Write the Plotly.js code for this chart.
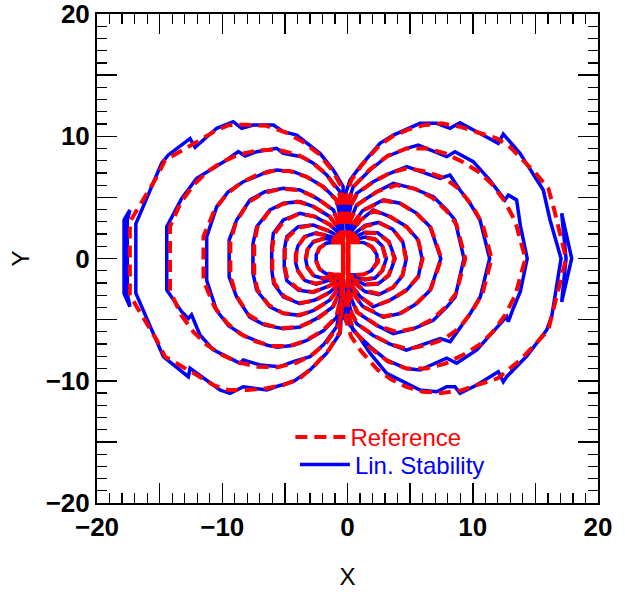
<!DOCTYPE html>
<html>
<head>
<meta charset="utf-8">
<script src="https://cdn.plot.ly/plotly-3.0.1.min.js"></script>
<style>
html, body { margin: 0; padding: 0; background: #ffffff; }
#chart { width: 625px; height: 592px; }
</style>
</head>
<body>
<div id="chart"></div>
<script>
// Field-line loops, one [x, y] list per loop.
// "ref" = Reference solution, "lin" = Lin. Stability solution.
// L = loops on the left of the source, R = loops on the right.

const linL1 = [[-0.35,1.3],[-0.38,3.2],[-0.35,5.9],[-1.13,7.24],[-2.2,8.6],[-3.26,9.42],[-4.06,10.1],[-5.12,10.37],[-5.92,10.92],[-7.52,10.92],[-8.45,10.65],[-9.12,11.19],[-10.44,10.65],[-12.17,9.1],[-12.57,9.8],[-14.3,8.47],[-14.84,7.79],[-16.9,2.84],[-16.9,-2.84],[-14.7,-8.03],[-12.71,-9.67],[-12.57,-8.98],[-10.18,-10.76],[-9.38,-11.03],[-8.32,-10.49],[-6.45,-10.76],[-5.6,-10.45],[-4.33,-10.08],[-2.99,-9.12],[-1.66,-7.75],[-0.6,-6.12],[-0.38,-3.2],[-0.35,-1.3]];
const linL2 = [[-0.35,1.3],[-0.45,3.4],[-0.6,5.46],[-1.66,6.83],[-2.73,7.79],[-3.66,8.33],[-5.12,8.6],[-5.65,9.01],[-7.25,8.74],[-8.18,8.38],[-8.72,8.74],[-9.65,8.06],[-10.98,7.24],[-12.04,6.56],[-13.24,4.92],[-14.43,2.6],[-14.43,-2.58],[-13.24,-4.35],[-12.7,-4.9],[-12.45,-4.6],[-11.78,-6.26],[-10.71,-7.48],[-8.58,-8.57],[-8.32,-8.3],[-6.99,-8.71],[-5.39,-8.85],[-4.33,-8.44],[-2.99,-8.03],[-1.93,-7.07],[-0.86,-5.58],[-0.45,-3.4],[-0.35,-1.3]];
const linL3 = [[-0.35,1.3],[-0.5,3.0],[-0.86,4.79],[-1.93,5.87],[-3.26,6.69],[-4.33,7.1],[-5.65,7.24],[-6.45,7.1],[-6.99,6.83],[-8.32,6.28],[-9.52,5.46],[-10.44,4.24],[-11.24,1.79],[-11.24,-1.8],[-10.45,-4.25],[-9.5,-5.5],[-8.3,-6.3],[-7.0,-6.85],[-6.4,-7.1],[-5.6,-7.25],[-4.3,-7.1],[-3.25,-6.7],[-1.9,-5.9],[-0.86,-4.8],[-0.5,-3.0],[-0.35,-1.3]];
const linL4 = [[-0.35,1.3],[-0.55,2.6],[-1.13,3.97],[-2.46,4.92],[-3.79,5.6],[-5.12,5.74],[-6.59,5.46],[-7.78,4.79],[-8.85,3.15],[-9.45,1.5],[-9.45,-1.5],[-8.85,-3.15],[-7.8,-4.8],[-6.6,-5.45],[-5.1,-5.75],[-3.8,-5.6],[-2.45,-4.9],[-1.15,-3.95],[-0.55,-2.6],[-0.35,-1.3]];
const linL5 = [[-0.35,1.3],[-0.6,2.3],[-1.4,3.42],[-2.73,4.24],[-3.79,4.65],[-5.12,4.52],[-6.19,3.97],[-7.25,2.6],[-7.55,1.2],[-7.55,-1.2],[-7.25,-2.6],[-6.2,-3.95],[-5.1,-4.5],[-3.8,-4.65],[-2.7,-4.25],[-1.4,-3.4],[-0.6,-2.3],[-0.35,-1.3]];
const linL6 = [[-0.35,1.3],[-0.6,2.0],[-1.4,2.74],[-2.59,3.42],[-3.79,3.7],[-5.12,3.15],[-5.92,2.06],[-6.05,0.9],[-6.05,-0.9],[-5.9,-2.05],[-5.1,-3.15],[-3.8,-3.7],[-2.6,-3.4],[-1.4,-2.75],[-0.6,-2.0],[-0.35,-1.3]];
const linL7 = [[-0.35,1.3],[-0.6,1.75],[-1.4,2.2],[-2.73,2.74],[-3.93,2.6],[-4.85,1.78],[-5.05,0.7],[-5.05,-0.7],[-4.85,-1.8],[-3.9,-2.6],[-2.7,-2.75],[-1.4,-2.2],[-0.6,-1.75],[-0.35,-1.3]];
const linL8 = [[-0.35,1.3],[-0.7,1.55],[-1.4,1.8],[-2.5,2.1],[-3.4,1.8],[-3.95,1.05],[-4.15,0.3],[-4.15,-0.3],[-3.95,-1.05],[-3.4,-1.8],[-2.5,-2.1],[-1.4,-1.8],[-0.7,-1.55],[-0.35,-1.3]];
const linL9 = [[-0.35,1.3],[-1.0,1.5],[-1.9,1.65],[-2.7,1.4],[-3.2,0.75],[-3.35,0.0],[-3.2,-0.75],[-2.7,-1.4],[-1.9,-1.65],[-1.0,-1.5],[-0.35,-1.3]];
const linL10 = [[-0.35,1.3],[-1.0,1.35],[-1.7,1.25],[-2.2,0.9],[-2.5,0.3],[-2.5,-0.3],[-2.2,-0.9],[-1.7,-1.25],[-1.0,-1.35],[-0.35,-1.3]];
const linSpikeL = [[-17.37,3.97],[-17.84,3.15],[-17.84,-2.85],[-17.37,-3.94],[-17.58,-2.85],[-17.58,3.15],[-17.37,3.97]];

const linR1 = [[0.05,1.3],[-0.12,3.2],[-0.25,5.0],[0.2,6.42],[1.0,7.51],[2.59,9.42],[3.66,10.1],[5.79,11.06],[7.12,11.06],[8.18,10.65],[8.98,11.11],[10.32,10.37],[12.04,9.42],[12.44,10.18],[13.77,8.6],[15.63,5.6],[16.17,3.15],[17.05,0.0],[16.3,-4.76],[15.9,-5.85],[14.3,-8.0],[12.71,-9.67],[12.44,-10.08],[12.04,-9.26],[10.32,-10.35],[8.98,-11.03],[8.58,-10.49],[7.92,-10.49],[7.12,-10.9],[5.79,-10.76],[4.73,-10.21],[3.13,-9.39],[1.8,-7.75],[0.73,-6.12],[-0.25,-4.9],[-0.12,-3.2],[0.05,-1.3]];
const linR2 = [[0.05,1.3],[-0.05,3.2],[0.1,4.8],[0.46,5.87],[1.8,7.24],[3.13,8.33],[4.73,9.01],[5.65,9.28],[7.92,8.33],[8.58,8.74],[10.04,7.92],[11.24,6.56],[12.57,4.79],[12.84,5.19],[13.5,4.79],[13.8,2.7],[14.35,0.0],[13.8,-2.7],[13.24,-4.07],[12.84,-5.17],[12.71,-4.76],[11.3,-6.4],[10.32,-7.48],[8.72,-8.57],[7.92,-8.16],[5.79,-9.12],[4.7,-9.0],[3.1,-8.3],[1.8,-7.2],[0.46,-5.9],[0.1,-4.8],[-0.05,-3.2],[0.05,-1.3]];
const linR3 = [[0.05,1.3],[0.0,3.0],[0.3,4.5],[0.73,5.33],[2.06,6.28],[3.39,6.97],[4.73,7.51],[5.53,7.24],[7.39,6.56],[8.18,6.83],[8.98,5.6],[9.78,4.52],[10.58,3.15],[11.35,0.0],[10.6,-3.15],[9.8,-4.5],[9.0,-5.6],[8.2,-6.8],[7.4,-6.55],[5.5,-7.25],[4.7,-7.5],[3.4,-7.0],[2.05,-6.3],[0.75,-5.35],[0.3,-4.5],[0.0,-3.0],[0.05,-1.3]];
const linR4 = [[0.05,1.3],[0.1,2.8],[0.73,4.38],[2.33,5.46],[3.66,6.15],[5.25,5.74],[6.85,5.05],[7.92,3.97],[8.58,3.15],[9.3,0.0],[8.6,-3.15],[7.9,-4.0],[6.85,-5.05],[5.25,-5.75],[3.65,-6.15],[2.3,-5.45],[0.75,-4.4],[0.1,-2.8],[0.05,-1.3]];
const linR5 = [[0.05,1.3],[0.2,2.5],[1.2,3.9],[2.86,4.79],[4.19,4.52],[5.53,3.7],[6.59,2.6],[7.45,0.0],[6.6,-2.6],[5.5,-3.7],[4.2,-4.5],[2.85,-4.8],[1.2,-3.9],[0.2,-2.5],[0.05,-1.3]];
const linR6 = [[0.05,1.3],[0.3,2.2],[1.0,3.1],[2.06,3.97],[3.39,3.42],[4.73,2.6],[5.65,1.51],[5.95,0.0],[5.65,-1.5],[4.7,-2.6],[3.4,-3.4],[2.05,-3.95],[1.0,-3.1],[0.3,-2.2],[0.05,-1.3]];
const linR7 = [[0.05,1.3],[0.4,1.9],[1.4,2.7],[2.5,2.95],[3.6,2.4],[4.4,1.4],[4.7,0.0],[4.4,-1.4],[3.6,-2.4],[2.5,-2.95],[1.4,-2.7],[0.4,-1.9],[0.05,-1.3]];
const linR8 = [[0.05,1.3],[0.5,1.7],[1.4,2.15],[2.4,2.1],[3.3,1.4],[3.8,0.0],[3.3,-1.4],[2.4,-2.1],[1.4,-2.15],[0.5,-1.7],[0.05,-1.3]];
const linR9 = [[0.05,1.3],[0.6,1.55],[1.4,1.75],[2.2,1.6],[2.8,1.0],[3.1,0.0],[2.8,-1.0],[2.2,-1.6],[1.4,-1.75],[0.6,-1.55],[0.05,-1.3]];
const linR10 = [[0.05,1.3],[0.6,1.35],[1.3,1.3],[1.9,1.0],[2.35,0.3],[2.35,-0.3],[1.9,-1.0],[1.3,-1.3],[0.6,-1.35],[0.05,-1.3]];
const linSpikeR = [[17.1,3.7],[17.9,0.0],[17.1,-3.55],[17.45,0.0],[17.1,3.7]];

const refL1 = [[-0.35,1.3],[-0.4,3.2],[-0.45,5.8],[-1.2,7.2],[-2.3,8.55],[-3.5,9.5],[-4.9,10.3],[-6.5,10.85],[-8.1,10.95],[-9.5,10.9],[-10.71,10.35],[-12.04,9.53],[-13.37,8.71],[-14.57,8.03],[-15.23,6.67],[-16.03,5.3],[-17.38,3.0],[-17.38,-3.0],[-16.03,-5.3],[-15.23,-6.67],[-14.57,-8.03],[-13.37,-8.71],[-12.04,-9.53],[-10.71,-10.35],[-9.52,-10.76],[-8.05,-10.76],[-6.45,-10.62],[-5.12,-10.35],[-3.79,-9.8],[-2.59,-8.71],[-1.5,-7.5],[-0.6,-6.0],[-0.4,-3.2],[-0.35,-1.3],[-0.35,1.3]];
const refL2 = [[-0.35,1.3],[-0.45,3.4],[-0.65,5.4],[-1.7,6.9],[-2.8,7.85],[-4.0,8.5],[-5.6,8.9],[-7.2,8.85],[-8.7,8.5],[-10.0,7.9],[-11.2,7.1],[-12.3,6.0],[-13.3,4.6],[-14.17,2.6],[-14.17,-2.6],[-13.3,-4.6],[-12.3,-6.0],[-11.2,-7.1],[-10.0,-7.9],[-8.7,-8.5],[-7.2,-8.85],[-5.6,-8.9],[-4.0,-8.5],[-2.8,-7.85],[-1.7,-6.9],[-0.65,-5.4],[-0.45,-3.4],[-0.35,-1.3],[-0.35,1.3]];
const refL3 = [[-0.35,1.3],[-0.5,3.0],[-0.9,4.8],[-2.0,5.9],[-3.3,6.7],[-4.6,7.15],[-6.0,7.15],[-7.3,6.8],[-8.5,6.2],[-9.6,5.3],[-10.6,4.0],[-11.5,1.8],[-11.5,-1.8],[-10.6,-4.0],[-9.6,-5.3],[-8.5,-6.2],[-7.3,-6.8],[-6.0,-7.15],[-4.6,-7.15],[-3.3,-6.7],[-2.0,-5.9],[-0.9,-4.8],[-0.5,-3.0],[-0.35,-1.3],[-0.35,1.3]];
const refL4 = [[-0.35,1.3],[-0.55,2.6],[-1.2,4.0],[-2.5,5.0],[-3.9,5.6],[-5.3,5.7],[-6.7,5.35],[-7.9,4.6],[-8.9,3.0],[-9.35,1.4],[-9.35,-1.4],[-8.9,-3.0],[-7.9,-4.6],[-6.7,-5.35],[-5.3,-5.7],[-3.9,-5.6],[-2.5,-5.0],[-1.2,-4.0],[-0.55,-2.6],[-0.35,-1.3],[-0.35,1.3]];
const refL5 = [[-0.35,1.3],[-0.6,2.3],[-1.45,3.45],[-2.8,4.3],[-4.0,4.65],[-5.2,4.45],[-6.3,3.8],[-7.2,2.55],[-7.45,1.2],[-7.45,-1.2],[-7.2,-2.55],[-6.3,-3.8],[-5.2,-4.45],[-4.0,-4.65],[-2.8,-4.3],[-1.45,-3.45],[-0.6,-2.3],[-0.35,-1.3],[-0.35,1.3]];
const refL6 = [[-0.35,1.3],[-0.6,2.0],[-1.45,2.8],[-2.65,3.45],[-3.9,3.65],[-5.05,3.1],[-5.85,2.0],[-6.0,0.9],[-6.0,-0.9],[-5.85,-2.0],[-5.05,-3.1],[-3.9,-3.65],[-2.65,-3.45],[-1.45,-2.8],[-0.6,-2.0],[-0.35,-1.3],[-0.35,1.3]];
const refL7 = [[-0.35,1.3],[-0.6,1.75],[-1.45,2.25],[-2.8,2.75],[-3.95,2.5],[-4.8,1.7],[-5.0,0.7],[-5.0,-0.7],[-4.8,-1.7],[-3.95,-2.5],[-2.8,-2.75],[-1.45,-2.25],[-0.6,-1.75],[-0.35,-1.3],[-0.35,1.3]];
const refL8 = [[-0.35,1.3],[-0.7,1.55],[-1.45,1.85],[-2.55,2.05],[-3.45,1.75],[-3.95,1.0],[-4.1,0.3],[-4.1,-0.3],[-3.95,-1.0],[-3.45,-1.75],[-2.55,-2.05],[-1.45,-1.85],[-0.7,-1.55],[-0.35,-1.3],[-0.35,1.3]];
const refL9 = [[-0.35,1.3],[-1.0,1.5],[-1.95,1.6],[-2.75,1.35],[-3.2,0.7],[-3.3,0.0],[-3.2,-0.7],[-2.75,-1.35],[-1.95,-1.6],[-1.0,-1.5],[-0.35,-1.3],[-0.35,1.3]];
const refL10 = [[-0.35,1.3],[-1.0,1.33],[-1.75,1.2],[-2.25,0.85],[-2.45,0.3],[-2.45,-0.3],[-2.25,-0.85],[-1.75,-1.2],[-1.0,-1.33],[-0.35,-1.3],[-0.35,1.3]];

const refR1 = [[0.05,1.3],[-0.1,3.0],[-0.15,5.0],[0.3,6.4],[1.1,7.6],[2.5,9.2],[3.6,10.0],[4.73,10.5],[6.05,10.9],[7.52,11.06],[8.98,10.78],[10.32,10.37],[11.9,9.83],[13.0,9.1],[13.77,8.33],[15.0,7.0],[16.03,5.74],[16.5,4.0],[17.45,0.0],[16.5,-4.0],[16.03,-5.85],[15.0,-7.0],[13.8,-8.3],[12.0,-9.8],[10.3,-10.4],[9.0,-10.8],[7.5,-11.0],[6.0,-10.9],[4.7,-10.5],[3.5,-9.9],[2.4,-9.1],[1.1,-7.6],[0.3,-6.4],[-0.15,-5.0],[-0.1,-3.0],[0.05,-1.3],[0.05,1.3]];
const refR2 = [[0.05,1.3],[-0.05,3.2],[0.15,4.8],[0.5,5.9],[1.8,7.3],[3.2,8.4],[4.7,9.0],[6.3,9.0],[7.8,8.6],[9.2,7.9],[10.6,7.0],[11.6,6.0],[12.6,4.6],[13.4,3.0],[14.2,0.0],[13.4,-3.0],[12.6,-4.6],[11.6,-6.0],[10.6,-7.0],[9.2,-7.9],[7.8,-8.6],[6.3,-9.0],[4.7,-9.0],[3.2,-8.4],[1.8,-7.3],[0.5,-5.9],[0.15,-4.8],[-0.05,-3.2],[0.05,-1.3],[0.05,1.3]];
const refR3 = [[0.05,1.3],[0.0,3.0],[0.35,4.5],[0.8,5.35],[2.1,6.3],[3.4,7.0],[4.8,7.4],[6.3,7.1],[7.7,6.6],[8.9,5.7],[9.9,4.4],[10.8,2.8],[11.5,0.0],[10.8,-2.8],[9.9,-4.4],[8.9,-5.7],[7.7,-6.6],[6.3,-7.1],[4.8,-7.4],[3.4,-7.0],[2.1,-6.3],[0.8,-5.35],[0.35,-4.5],[0.0,-3.0],[0.05,-1.3],[0.05,1.3]];
const refR4 = [[0.05,1.3],[0.1,2.8],[0.8,4.4],[2.4,5.5],[3.9,6.0],[5.4,5.7],[6.8,4.95],[7.9,3.9],[8.7,2.8],[9.4,0.0],[8.7,-2.8],[7.9,-3.9],[6.8,-4.95],[5.4,-5.7],[3.9,-6.0],[2.4,-5.5],[0.8,-4.4],[0.1,-2.8],[0.05,-1.3],[0.05,1.3]];
const refR5 = [[0.05,1.3],[0.2,2.5],[1.25,3.95],[2.9,4.75],[4.3,4.45],[5.6,3.6],[6.65,2.5],[7.5,0.0],[6.65,-2.5],[5.6,-3.6],[4.3,-4.45],[2.9,-4.75],[1.25,-3.95],[0.2,-2.5],[0.05,-1.3],[0.05,1.3]];
const refR6 = [[0.05,1.3],[0.3,2.2],[1.05,3.15],[2.1,3.9],[3.45,3.4],[4.75,2.55],[5.65,1.45],[6.0,0.0],[5.65,-1.45],[4.75,-2.55],[3.45,-3.4],[2.1,-3.9],[1.05,-3.15],[0.3,-2.2],[0.05,-1.3],[0.05,1.3]];
const refR7 = [[0.05,1.3],[0.4,1.9],[1.45,2.65],[2.55,2.9],[3.65,2.35],[4.4,1.35],[4.65,0.0],[4.4,-1.35],[3.65,-2.35],[2.55,-2.9],[1.45,-2.65],[0.4,-1.9],[0.05,-1.3],[0.05,1.3]];
const refR8 = [[0.05,1.3],[0.5,1.7],[1.45,2.1],[2.45,2.05],[3.3,1.35],[3.75,0.0],[3.3,-1.35],[2.45,-2.05],[1.45,-2.1],[0.5,-1.7],[0.05,-1.3],[0.05,1.3]];
const refR9 = [[0.05,1.3],[0.6,1.55],[1.45,1.7],[2.25,1.55],[2.8,0.95],[3.05,0.0],[2.8,-0.95],[2.25,-1.55],[1.45,-1.7],[0.6,-1.55],[0.05,-1.3],[0.05,1.3]];
const refR10 = [[0.05,1.3],[0.6,1.35],[1.35,1.28],[1.95,0.95],[2.43,0.3],[2.43,-0.3],[1.95,-0.95],[1.35,-1.28],[0.6,-1.35],[0.05,-1.3],[0.05,1.3]];

const linLoops = [linL1, linL2, linL3, linL4, linL5, linL6, linL7, linL8, linL9, linL10, linSpikeL,
                  linR1, linR2, linR3, linR4, linR5, linR6, linR7, linR8, linR9, linR10, linSpikeR];
const refLoops = [refL1, refL2, refL3, refL4, refL5, refL6, refL7, refL8, refL9, refL10,
                  refR1, refR2, refR3, refR4, refR5, refR6, refR7, refR8, refR9, refR10];

const axisTickVals = [-20, -15, -10, -5, 0, 5, 10, 15, 20];
const axisTickText = ['\u221220', '', '\u221210', '', '0', '', '10', '', '20'];

// Join the loops of one family into a single trace, broken by nulls.
function joinLoops(loops) {
  const xs = [], ys = [];
  loops.forEach((loop, i) => {
    if (i > 0) { xs.push(null); ys.push(null); }
    loop.forEach(p => { xs.push(p[0]); ys.push(p[1]); });
  });
  return { x: xs, y: ys };
}

const linXY = joinLoops(linLoops);
const refXY = joinLoops(refLoops);

const FONT = 'Liberation Sans, Arial, Helvetica, sans-serif';

const traces = [
  {
    type: 'scatter', mode: 'lines',
    x: linXY.x, y: linXY.y,
    name: '<span style="color:#0000ff">Lin. Stability</span>',
    legend: 'legend2',
    line: { color: '#0000ff', width: 3.5 },
    hoverinfo: 'skip'
  },
  {
    type: 'scatter', mode: 'lines',
    x: refXY.x, y: refXY.y,
    name: '<span style="color:#ff0000">Reference</span>',
    legend: 'legend',
    line: { color: '#ff0000', width: 4, dash: '12px,7px' },
    hoverinfo: 'skip'
  }
];

function axisStyle(titleText, standoff) {
  return {
    range: [-20, 20],
    tickmode: 'array',
    tickvals: axisTickVals,
    ticktext: axisTickText,
    ticks: 'inside',
    ticklen: 20,
    tickwidth: 1.5,
    tickcolor: '#000000',
    minor: { ticks: 'inside', dtick: 1, tick0: 0, ticklen: 10, tickwidth: 1.2, tickcolor: '#000000' },
    showline: true,
    linewidth: 2,
    linecolor: '#000000',
    mirror: 'ticks',
    showgrid: false,
    zeroline: false,
    ticklabeloverflow: 'allow',
    tickfont: { family: FONT, size: 26, color: '#000000', weight: 'bold' },
    title: { text: titleText, font: { family: FONT, size: 24, color: '#000000' }, standoff: standoff },
    fixedrange: true
  };
}

function legendBox(xPos, yPos) {
  return {
    x: xPos, y: yPos, xanchor: 'left', yanchor: 'top',
    bgcolor: 'rgba(0,0,0,0)',
    borderwidth: 0,
    font: { family: FONT, size: 24 },
    itemwidth: 50,
    tracegroupgap: 0
  };
}

const layout = {
  width: 625,
  height: 592,
  margin: { l: 97, r: 27, t: 14, b: 89 },
  paper_bgcolor: '#ffffff',
  plot_bgcolor: '#ffffff',
  xaxis: Object.assign(axisStyle('X', 27), { automargin: false }),
  yaxis: Object.assign(axisStyle('Y', 9), { automargin: false }),
  showlegend: true,
  legend: legendBox(0.386, 0.18),
  legend2: legendBox(0.395, 0.124)
};

Plotly.newPlot('chart', traces, layout, { displayModeBar: false, staticPlot: true });
</script>
</body>
</html>
